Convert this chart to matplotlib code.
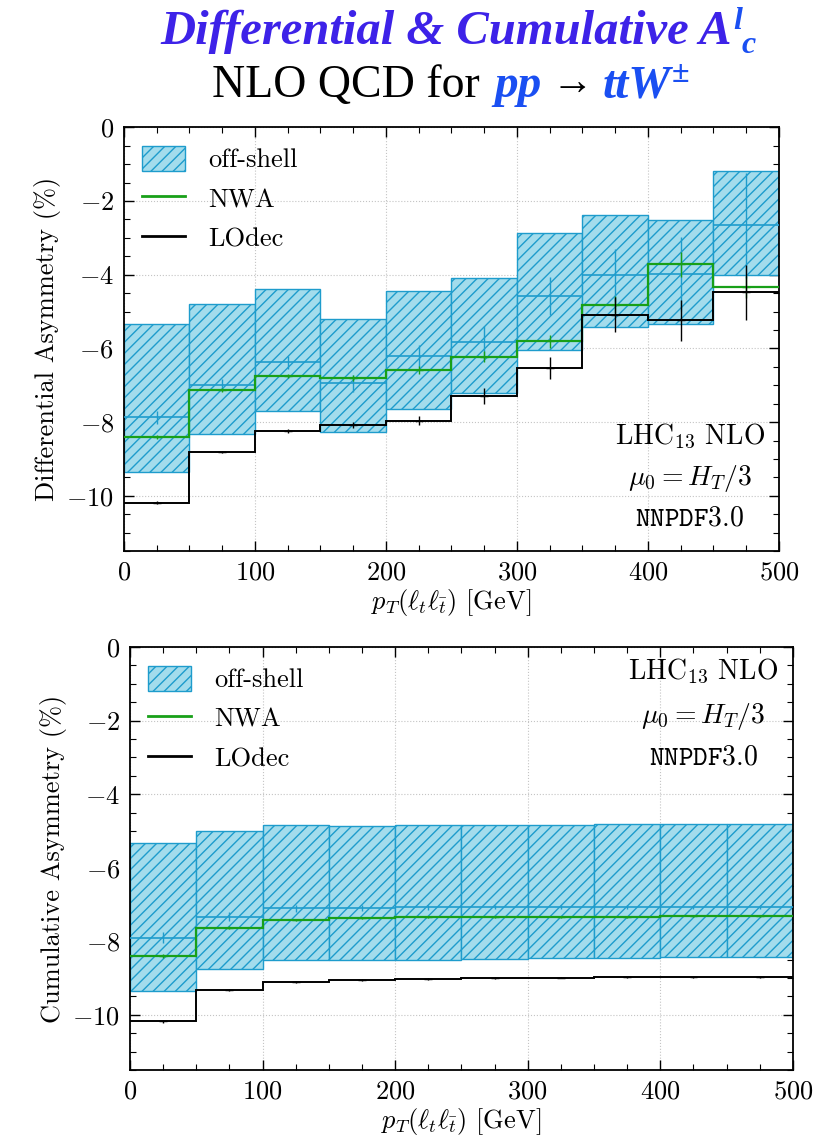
import matplotlib
matplotlib.use('Agg')
import matplotlib.pyplot as plt
import matplotlib.patches as mpatches
from matplotlib.lines import Line2D
from matplotlib.ticker import MultipleLocator, FuncFormatter
import numpy as np

plt.rcParams['font.family'] = 'serif'
plt.rcParams['font.serif'] = ['cmr10']
plt.rcParams['mathtext.fontset'] = 'cm'
plt.rcParams['axes.unicode_minus'] = False
plt.rcParams['hatch.linewidth'] = 1.0

# bin edges in pT(l_t l_tbar) [GeV]
edges = [0, 50, 100, 150, 200, 250, 300, 350, 400, 450, 500]

# Differential asymmetry (%)
diff_off_up = [-5.33, -4.79, -4.40, -5.21, -4.43, -4.09, -2.87, -2.39, -2.53, -1.20]
diff_off_lo = [-9.35, -8.32, -7.69, -8.26, -7.63, -7.22, -6.03, -5.41, -5.33, -4.00]
diff_off_c = [-7.87, -6.99, -6.38, -6.95, -6.21, -5.83, -4.58, -4.02, -3.98, -2.66]
diff_off_err = [0.17, 0.17, 0.17, 0.22, 0.30, 0.45, 0.52, 0.72, 1.00, 1.42]
diff_nwa = [-8.40, -7.13, -6.74, -6.81, -6.58, -6.22, -5.81, -4.81, -3.72, -4.34]
diff_nwa_err = [0.05, 0.05, 0.06, 0.08, 0.10, 0.14, 0.18, 0.22, 0.34, 0.30]
diff_lo = [-10.18, -8.80, -8.23, -8.08, -7.96, -7.28, -6.53, -5.08, -5.24, -4.48]
diff_lo_err = [0.03, 0.03, 0.05, 0.08, 0.12, 0.22, 0.30, 0.48, 0.55, 0.74]

# Cumulative asymmetry (%)
cum_off_up = [-5.33, -5.00, -4.84, -4.86, -4.85, -4.84, -4.83, -4.82, -4.82, -4.82]
cum_off_lo = [-9.36, -8.74, -8.52, -8.51, -8.50, -8.48, -8.46, -8.45, -8.44, -8.44]
cum_off_c = [-7.90, -7.33, -7.10, -7.10, -7.08, -7.07, -7.07, -7.06, -7.06, -7.06]
cum_off_err = [0.15, 0.12, 0.10, 0.08, 0.07, 0.06, 0.06, 0.06, 0.06, 0.06]
cum_nwa = [-8.40, -7.63, -7.42, -7.37, -7.35, -7.34, -7.33, -7.33, -7.32, -7.32]
cum_nwa_err = [0.05, 0.04, 0.03, 0.03, 0.03, 0.03, 0.03, 0.03, 0.03, 0.03]
cum_lo = [-10.18, -9.33, -9.11, -9.05, -9.02, -9.00, -8.99, -8.98, -8.98, -8.98]
cum_lo_err = [0.03, 0.03, 0.03, 0.02, 0.02, 0.02, 0.02, 0.02, 0.02, 0.02]

band_face = '#a3dcec'
band_edge = '#1e9ccc'
nwa_color = '#18a018'
lo_color = 'black'

fig = plt.figure(figsize=(8.2, 11.46), dpi=100)
ax1 = fig.add_axes([0.151, 0.519, 0.799, 0.370])
ax2 = fig.add_axes([0.1585, 0.0663, 0.8085, 0.3691])


def draw_panel(ax, up, lo, cen, cen_err, nwa, nwa_err, lod, lod_err):
    edges_a = np.array(edges, dtype=float)
    mids = 0.5 * (edges_a[:-1] + edges_a[1:])
    widths = np.diff(edges_a)
    up = np.array(up)
    lo = np.array(lo)
    ax.bar(edges_a[:-1], up - lo, bottom=lo, width=widths, align='edge',
           facecolor=band_face, edgecolor=band_edge, hatch='///', lw=1.0, zorder=2)
    ax.hlines(cen, edges_a[:-1], edges_a[1:], color=band_edge, lw=1.2, zorder=3)
    ax.errorbar(mids, cen, yerr=cen_err, fmt='none', ecolor=band_edge, elinewidth=1.0, zorder=3)
    ax.stairs(nwa, edges_a, color=nwa_color, lw=1.6, baseline=None, zorder=4)
    ax.errorbar(mids, nwa, yerr=nwa_err, fmt='none', ecolor=nwa_color, elinewidth=1.0, zorder=4)
    ax.hlines(nwa, mids - 3, mids + 3, color=nwa_color, lw=1.0, zorder=4)
    ax.stairs(lod, edges_a, color=lo_color, lw=1.4, baseline=None, zorder=5)
    ax.errorbar(mids, lod, yerr=lod_err, fmt='none', ecolor=lo_color, elinewidth=1.0, zorder=5)
    ax.hlines(lod, mids - 3, mids + 3, color=lo_color, lw=1.0, zorder=5)

    ax.set_xlim(0, 500)
    ax.set_ylim(-11.5, 0)
    ax.xaxis.set_major_locator(MultipleLocator(100))
    ax.xaxis.set_minor_locator(MultipleLocator(25))
    ax.yaxis.set_major_locator(MultipleLocator(2))
    ax.yaxis.set_minor_locator(MultipleLocator(0.5))
    fmt = FuncFormatter(lambda v, p: '$%g$' % v)
    ax.xaxis.set_major_formatter(fmt)
    ax.yaxis.set_major_formatter(fmt)
    ax.tick_params(which='both', direction='in', top=True, right=True, labelsize=19)
    ax.tick_params(which='major', length=7, width=1.0, pad=7)
    ax.tick_params(which='minor', length=4, width=0.8)
    ax.grid(True, which='major', ls=':', color='#c4c4c4', lw=0.8, zorder=0)
    ax.set_axisbelow(True)
    for s in ax.spines.values():
        s.set_linewidth(1.3)
    ax.set_xlabel(r'$p_T(\ell_t\ell_{\bar{t}})$ [GeV]', fontsize=19, labelpad=2)

    handles = [mpatches.Patch(facecolor=band_face, edgecolor=band_edge, hatch='///', lw=1.0),
               Line2D([], [], color=nwa_color, lw=2),
               Line2D([], [], color=lo_color, lw=2)]
    ax.legend(handles, ['off-shell', 'NWA', 'LOdec'], loc='upper left', frameon=False,
              fontsize=19, handlelength=1.6, handleheight=1.1, handletextpad=0.9,
              labelspacing=0.5, borderaxespad=0.3)


draw_panel(ax1, diff_off_up, diff_off_lo, diff_off_c, diff_off_err,
           diff_nwa, diff_nwa_err, diff_lo, diff_lo_err)
ax1.set_ylabel('Differential Asymmetry (%)', fontsize=19, labelpad=4)
ax1.text(0.864, 0.271, r'LHC$_{13}$ NLO', transform=ax1.transAxes, ha='center', va='center', fontsize=20)
ax1.text(0.864, 0.172, r'$\mu_0 = H_T/3$', transform=ax1.transAxes, ha='center', va='center', fontsize=20)
ax1.text(0.864, 0.078, r'$\mathtt{NNPDF3.0}$', transform=ax1.transAxes, ha='center', va='center', fontsize=20)

draw_panel(ax2, cum_off_up, cum_off_lo, cum_off_c, cum_off_err,
           cum_nwa, cum_nwa_err, cum_lo, cum_lo_err)
ax2.set_ylabel('Cumulative Asymmetry (%)', fontsize=19, labelpad=4)
ax2.text(0.865, 0.941, r'LHC$_{13}$ NLO', transform=ax2.transAxes, ha='center', va='center', fontsize=20)
ax2.text(0.865, 0.835, r'$\mu_0 = H_T/3$', transform=ax2.transAxes, ha='center', va='center', fontsize=20)
ax2.text(0.865, 0.74, r'$\mathtt{NNPDF3.0}$', transform=ax2.transAxes, ha='center', va='center', fontsize=20)


# title made of pieces with different styles, centred as one line around x_mid
def title_line(y_px, pieces, x_mid=455):
    renderer = fig.canvas.get_renderer()
    W, H = fig.bbox.width, fig.bbox.height
    texts = []
    for s, dy, gap, kw in pieces:
        t = fig.text(0, 1 - (y_px - dy) / H, s, va='baseline', ha='left', **kw)
        texts.append((t, gap))
    widths = [t.get_window_extent(renderer).width for t, g in texts]
    total = sum(widths) + sum(g for t, g in texts)
    x = x_mid - total / 2
    for (t, g), w in zip(texts, widths):
        t.set_x(x / W)
        x += w + g


c1 = '#3d22e8'
c2 = '#1a4ff2'
bi = dict(family='Liberation Serif', style='italic', weight='bold')
title_line(44, [('Differential & Cumulative A', 0, 2, dict(fontsize=35, color=c1, **bi)),
                ('l', 15, -1, dict(fontsize=23, color=c2, **bi)),
                ('c', -9, 0, dict(fontsize=23, color=c2, **bi))], x_mid=458)
title_line(97, [('NLO QCD for', 0, 14, dict(fontsize=33, color='black', family='Liberation Serif')),
                ('pp', 0, 10, dict(fontsize=34, color=c2, **bi)),
                ('\u2192', 3, 10, dict(fontsize=30, color='black', family='Liberation Serif')),
                ('ttW', 0, 1, dict(fontsize=34, color=c2, **bi)),
                ('\u00b1', 15, 0, dict(fontsize=23, color=c2, **bi))], x_mid=451)

fig.savefig('out.png', dpi=100)
